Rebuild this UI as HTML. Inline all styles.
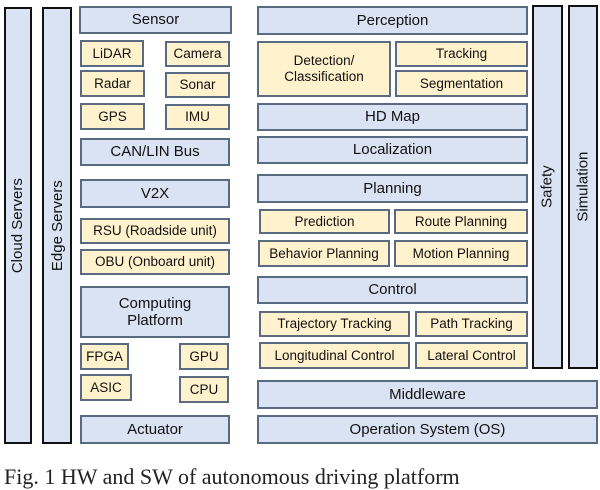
<!DOCTYPE html>
<html><head><meta charset="utf-8"><style>
body{margin:0;width:600px;height:478px;background:#fff;position:relative;overflow:hidden;font-family:"Liberation Sans",sans-serif;color:#111}
.b{position:absolute;box-sizing:border-box;display:flex;align-items:center;justify-content:center;text-align:center;line-height:1.15}
.m{background:#dae3f3;border:2px solid #5a6a80;font-size:15px}
.y{background:#fff2cc;border:2px solid #5a6a80;font-size:13.5px}
.k{background:#dae3f3;border:2px solid #111;font-size:15px}
.v span{transform:rotate(-90deg);white-space:nowrap;display:block}
</style></head><body>
<div class="b k v" style="left:4px;top:7px;width:28px;height:437px"><span>Cloud Servers</span></div>
<div class="b k v" style="left:42px;top:7px;width:30px;height:437px"><span>Edge Servers</span></div>
<div class="b m" style="left:79px;top:6px;width:153px;height:28px">Sensor</div>
<div class="b y" style="left:80px;top:40px;width:64px;height:27px">LiDAR</div>
<div class="b y" style="left:165px;top:41px;width:65px;height:26px">Camera</div>
<div class="b y" style="left:80px;top:70px;width:65px;height:27px">Radar</div>
<div class="b y" style="left:165px;top:72px;width:65px;height:26px">Sonar</div>
<div class="b y" style="left:80px;top:103px;width:65px;height:27px">GPS</div>
<div class="b y" style="left:165px;top:104px;width:65px;height:26px">IMU</div>
<div class="b m" style="left:80px;top:138px;width:150px;height:28px">CAN/LIN Bus</div>
<div class="b m" style="left:80px;top:179px;width:150px;height:29px">V2X</div>
<div class="b y" style="left:80px;top:218px;width:150px;height:26px">RSU (Roadside unit)</div>
<div class="b y" style="left:80px;top:249px;width:150px;height:26px">OBU (Onboard unit)</div>
<div class="b m" style="left:80px;top:286px;width:150px;height:52px">Computing<br>Platform</div>
<div class="b y" style="left:80px;top:343px;width:49px;height:27px">FPGA</div>
<div class="b y" style="left:179px;top:343px;width:50px;height:27px">GPU</div>
<div class="b y" style="left:80px;top:374px;width:52px;height:27px">ASIC</div>
<div class="b y" style="left:179px;top:376px;width:50px;height:27px">CPU</div>
<div class="b m" style="left:80px;top:415px;width:150px;height:29px">Actuator</div>

<div class="b m" style="left:257px;top:6px;width:271px;height:29px">Perception</div>
<div class="b y" style="left:257px;top:41px;width:134px;height:56px">Detection/<br>Classification</div>
<div class="b y" style="left:395px;top:41px;width:133px;height:26px">Tracking</div>
<div class="b y" style="left:395px;top:70px;width:133px;height:27px">Segmentation</div>
<div class="b m" style="left:257px;top:103px;width:271px;height:28px">HD Map</div>
<div class="b m" style="left:257px;top:136px;width:271px;height:28px">Localization</div>
<div class="b m" style="left:257px;top:174px;width:271px;height:29px">Planning</div>
<div class="b y" style="left:259px;top:209px;width:131px;height:25px">Prediction</div>
<div class="b y" style="left:394px;top:209px;width:134px;height:25px">Route Planning</div>
<div class="b y" style="left:258px;top:240px;width:132px;height:27px">Behavior Planning</div>
<div class="b y" style="left:394px;top:240px;width:134px;height:27px">Motion Planning</div>
<div class="b m" style="left:257px;top:276px;width:271px;height:28px">Control</div>
<div class="b y" style="left:259px;top:311px;width:151px;height:26px">Trajectory Tracking</div>
<div class="b y" style="left:415px;top:311px;width:113px;height:26px">Path Tracking</div>
<div class="b y" style="left:259px;top:342px;width:151px;height:27px">Longitudinal Control</div>
<div class="b y" style="left:415px;top:342px;width:113px;height:27px">Lateral Control</div>
<div class="b m" style="left:257px;top:380px;width:341px;height:29px">Middleware</div>
<div class="b m" style="left:257px;top:415px;width:341px;height:29px">Operation System (OS)</div>
<div class="b k v" style="left:532px;top:5px;width:31px;height:364px"><span>Safety</span></div>
<div class="b k v" style="left:568px;top:5px;width:30px;height:364px"><span>Simulation</span></div>
<div style="position:absolute;left:4px;top:464px;font-family:'Liberation Serif',serif;font-size:22px;white-space:nowrap;color:#222">Fig. 1 HW and SW of autonomous driving platform</div>
</body></html>
